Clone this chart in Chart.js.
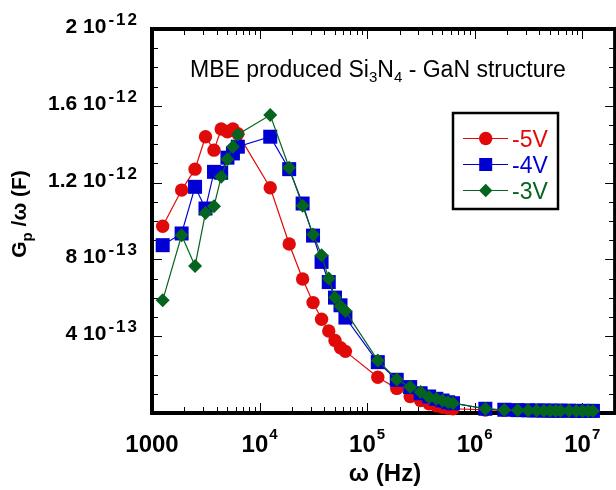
<!DOCTYPE html>
<html><head><meta charset="utf-8">
<script src="https://cdn.jsdelivr.net/npm/chart.js@4.4.1/dist/chart.umd.min.js"></script>
<style>html,body{margin:0;padding:0;overflow:hidden;background:#fff}#wrap{position:relative;width:625px;height:490px}</style>
</head><body><div id="wrap"><canvas id="c"></canvas></div>
<script>
// angular frequency ω (Hz)
const omega = [1257, 1885, 2513, 3142, 3770, 4398, 5027, 5655, 6283,
  12566, 18850, 25133, 31416, 37699, 43982, 50265, 56549, 62832,
  125664, 188496, 251327, 314159, 376991, 439823, 502655, 565487, 628319,
  1256637, 1884956, 2513274, 3141593, 3769911, 4398230, 5026548, 5654867, 6283185,
  7539822, 8796459, 10053096, 11309734, 12566371];
// Gp/ω (F)
const v5 = [9.73e-13, 11.61e-13, 12.70e-13, 14.39e-13, 13.69e-13, 14.79e-13, 14.65e-13, 14.79e-13, 14.55e-13,
  11.73e-13, 8.80e-13, 6.98e-13, 5.75e-13, 4.88e-13, 4.27e-13, 3.78e-13, 3.40e-13, 3.21e-13,
  1.86e-13, 1.28e-13, 0.86e-13, 0.65e-13, 0.48e-13, 0.38e-13, 0.30e-13, 0.25e-13, 0.22e-13,
  0.16e-13, 0.14e-13, 0.13e-13, 0.12e-13, 0.12e-13, 0.11e-13, 0.11e-13, 0.10e-13, 0.10e-13,
  0.10e-13, 0.09e-13, 0.09e-13, 0.09e-13, 0.09e-13];
const v4 = [8.74e-13, 9.35e-13, 11.78e-13, 10.65e-13, 12.56e-13, 12.51e-13, 13.30e-13, 13.52e-13, 13.87e-13,
  14.39e-13, 12.70e-13, 10.91e-13, 9.24e-13, 7.87e-13, 6.82e-13, 6.01e-13, 5.61e-13, 4.97e-13,
  2.65e-13, 1.73e-13, 1.35e-13, 1.03e-13, 0.86e-13, 0.74e-13, 0.65e-13, 0.56e-13, 0.51e-13,
  0.22e-13, 0.17e-13, 0.15e-13, 0.14e-13, 0.13e-13, 0.13e-13, 0.12e-13, 0.12e-13, 0.12e-13,
  0.12e-13, 0.11e-13, 0.11e-13, 0.11e-13, 0.11e-13];
const v3 = [5.87e-13, 9.26e-13, 7.66e-13, 10.42e-13, 10.77e-13, 12.30e-13, 13.21e-13, 13.87e-13, 14.51e-13,
  15.52e-13, 12.77e-13, 10.79e-13, 9.30e-13, 8.22e-13, 7.00e-13, 6.01e-13, 5.56e-13, 5.31e-13,
  2.74e-13, 1.75e-13, 1.35e-13, 1.09e-13, 0.82e-13, 0.74e-13, 0.65e-13, 0.56e-13, 0.51e-13,
  0.22e-13, 0.15e-13, 0.14e-13, 0.13e-13, 0.13e-13, 0.12e-13, 0.12e-13, 0.12e-13, 0.12e-13,
  0.12e-13, 0.11e-13, 0.11e-13, 0.11e-13, 0.11e-13];
const seriesLabels = ['-5V', '-4V', '-3V'];
const xTickValues = [1e3, 1e4, 1e5, 1e6, 1e7];
const xTickBase = ['1000', '10', '10', '10', '10'];
const xTickExp = ['', '4', '5', '6', '7'];
const yTickValues = [4e-13, 8e-13, 1.2e-12, 1.6e-12, 2e-12];
const yTickBase = ['4 10', '8 10', '1.2 10', '1.6 10', '2 10'];
const yTickExp = ['-13', '-13', '-12', '-12', '-12'];
const titleParts = [['MBE produced Si', 0], ['3', 1], ['N', 0], ['4', 1], [' - GaN structure', 0]];
const xTitle = 'ω (Hz)';
const yTitleParts = [['G', 0], ['p', 1], [' /ω (F)', 0]];

const FONT = "'Liberation Sans', Arial, Helvetica, sans-serif";
const RED = '#e10a0a', BLUE = '#0000d2', GREEN = '#05641e';

function mk(label, data, color, style, radius, order) {
  return { label, data: omega.map((x, i) => ({ x, y: data[i] })), borderColor: color, backgroundColor: color,
    pointBackgroundColor: color, pointBorderColor: color, pointStyle: style, pointRadius: radius,
    pointHoverRadius: radius, pointBorderWidth: 0, borderWidth: 1.2, tension: 0, order, clip: false, spanGaps: true };
}

function marker(ctx, style, x, y, r, color) {
  ctx.save(); ctx.fillStyle = color; ctx.beginPath();
  if (style === 'circle') ctx.arc(x, y, r, 0, Math.PI * 2);
  else if (style === 'rect') { const s = r * Math.SQRT1_2; ctx.rect(x - s, y - s, 2 * s, 2 * s); }
  else { ctx.moveTo(x - r, y); ctx.lineTo(x, y - r); ctx.lineTo(x + r, y); ctx.lineTo(x, y + r); ctx.closePath(); }
  ctx.fill(); ctx.restore();
}

const framePlugin = {
  id: 'frame',
  beforeDatasetsDraw(chart) {
    const { ctx, chartArea: a, scales } = chart;
    const xs = scales.x, ys = scales.y;
    ctx.save();
    ctx.strokeStyle = '#000'; ctx.lineWidth = 1;
    ctx.beginPath();
    for (let d = 1e3; d <= 1e8; d *= 10) {
      for (let m = 1; m <= 9; m++) {
        const v = d * m; if (v > xs.max) break;
        const px = Math.round(xs.getPixelForValue(v)) + 0.5;
        const len = m === 1 ? 10 : 6;
        ctx.moveTo(px, a.bottom); ctx.lineTo(px, a.bottom - len);
        ctx.moveTo(px, a.top); ctx.lineTo(px, a.top + len);
      }
    }
    for (let k = 1; k < 20; k++) {
      const py = Math.round(ys.getPixelForValue(k * 1e-13)) + 0.5;
      const len = k % 4 === 0 ? 10 : 6;
      ctx.moveTo(a.left, py); ctx.lineTo(a.left + len, py);
      ctx.moveTo(a.right, py); ctx.lineTo(a.right - len, py);
    }
    ctx.stroke();
    ctx.lineWidth = 4;
    ctx.strokeRect(a.left, a.top, a.right - a.left, a.bottom - a.top);
    ctx.restore();
  },
  afterDraw(chart) {
    const { ctx, chartArea: a, scales } = chart;
    const xs = scales.x, ys = scales.y;
    ctx.save();
    ctx.fillStyle = '#000'; ctx.textBaseline = 'alphabetic'; ctx.textAlign = 'left';
    // y tick labels
    const yb = 'bold 21px ' + FONT, ye = 'bold 17px ' + FONT;
    yTickValues.forEach((v, i) => {
      const py = ys.getPixelForValue(v);
      ctx.font = ye; ctx.letterSpacing = '2px'; const we = ctx.measureText(yTickExp[i]).width;
      ctx.letterSpacing = '0px';
      ctx.font = yb; const wb = ctx.measureText(yTickBase[i]).width;
      const right = 139;
      ctx.font = yb; ctx.fillText(yTickBase[i], right - we - 2 - wb, py + 4);
      ctx.font = ye; ctx.letterSpacing = '2px'; ctx.fillText(yTickExp[i], right - we, py - 4);
      ctx.letterSpacing = '0px';
    });
    // x tick labels
    const xb = 'bold 24px ' + FONT, xe = 'bold 15px ' + FONT;
    xTickValues.forEach((v, i) => {
      const px = xs.getPixelForValue(v);
      ctx.font = xb; const wb = ctx.measureText(xTickBase[i]).width;
      ctx.font = xe; const we = xTickExp[i] ? ctx.measureText(xTickExp[i]).width + 1 : 0;
      const start = px - (wb + we) / 2;
      ctx.font = xb; ctx.fillText(xTickBase[i], start, 452);
      if (xTickExp[i]) { ctx.font = xe; ctx.fillText(xTickExp[i], start + wb + 1, 439); }
    });
    // x title
    ctx.font = 'bold 24px ' + FONT; ctx.textAlign = 'center';
    ctx.fillText(xTitle, 385, 481);
    // y title (rotated)
    ctx.save();
    ctx.translate(26, (a.top + a.bottom) / 2 - 7);
    ctx.rotate(-Math.PI / 2);
    let tw = 0;
    yTitleParts.forEach(([t, s]) => { ctx.font = (s ? 'bold 15px ' : 'bold 21px ') + FONT; tw += ctx.measureText(t).width; });
    let cx = -tw / 2; ctx.textAlign = 'left';
    yTitleParts.forEach(([t, s]) => {
      ctx.font = (s ? 'bold 15px ' : 'bold 21px ') + FONT;
      ctx.fillText(t, cx, s ? 6 : 0); cx += ctx.measureText(t).width;
    });
    ctx.restore();
    // annotation title
    ctx.textAlign = 'left';
    let tx = 190;
    titleParts.forEach(([t, s]) => {
      ctx.font = (s ? '15px ' : '23px ') + FONT;
      ctx.fillText(t, tx, s ? 82 : 77); tx += ctx.measureText(t).width;
    });
    // legend
    const lx = 453, ly = 113, lw = 105, lh = 96;
    ctx.lineWidth = 2.5; ctx.strokeStyle = '#000';
    ctx.strokeRect(lx, ly, lw, lh);
    chart.data.datasets.forEach((ds, i) => {
      const y = 138.5 + i * 26;
      ctx.strokeStyle = ds.borderColor; ctx.lineWidth = 1.2;
      ctx.beginPath(); ctx.moveTo(463, y); ctx.lineTo(508, y); ctx.stroke();
      marker(ctx, ds.pointStyle, 485.7, y, ds.pointStyle === 'rect' ? 9.2 : 6.7, ds.borderColor);
      ctx.fillStyle = ds.borderColor; ctx.font = '23px ' + FONT;
      ctx.fillText(ds.label, 512, y + 8);
    });
    ctx.restore();
  }
};

new Chart(document.getElementById('c'), {
  type: 'line',
  data: { datasets: [
    mk(seriesLabels[0], v5, RED, 'circle', 6.7, 2),
    mk(seriesLabels[1], v4, BLUE, 'rect', 9.9, 1),
    mk(seriesLabels[2], v3, GREEN, 'rectRot', 7, 0)
  ] },
  options: {
    responsive: true, maintainAspectRatio: false, animation: false, devicePixelRatio: 1,
    layout: { padding: { left: 152, right: 7, top: 29, bottom: 77 } },
    plugins: { legend: { display: false }, tooltip: { enabled: false } },
    scales: {
      x: { type: 'logarithmic', min: 1000, max: 2.02e7, display: false },
      y: { type: 'linear', min: 0, max: 2e-12, display: false }
    }
  },
  plugins: [framePlugin]
});
</script></body></html>
